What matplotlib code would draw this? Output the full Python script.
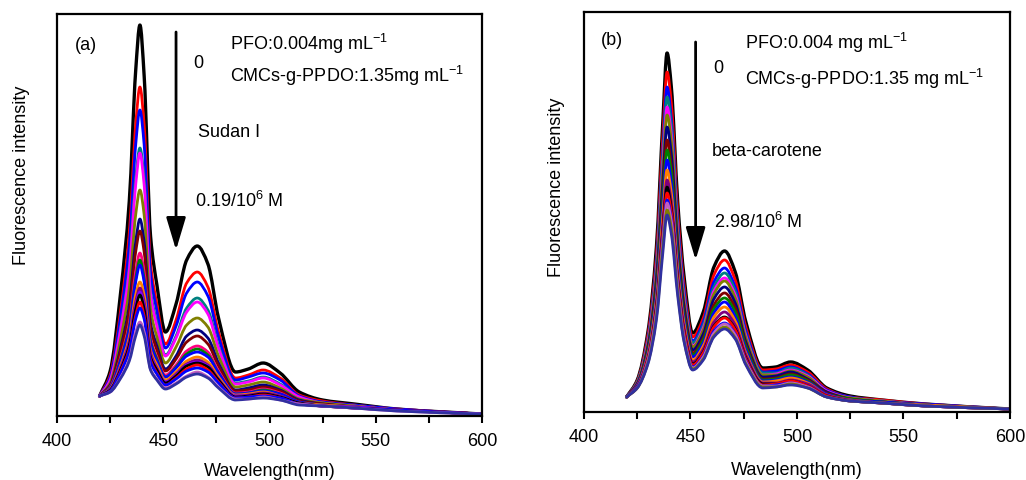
import matplotlib
matplotlib.use('Agg')
import matplotlib.pyplot as plt
import numpy as np
from matplotlib.path import Path
from matplotlib.patches import PathPatch
from matplotlib.ticker import MultipleLocator

plt.rcParams['font.family'] = ['Liberation Sans', 'DejaVu Sans']
plt.rcParams['mathtext.fontset'] = 'custom'
plt.rcParams['mathtext.rm'] = 'Liberation Sans'
plt.rcParams['mathtext.it'] = 'Liberation Sans:italic'

wavelength = [420, 425, 430, 434, 437, 439, 441, 444, 447, 451, 456, 461,
              466, 471, 476, 484, 490, 497, 505, 514, 525, 540, 560, 600]

# (a) Sudan I titration, one row per wavelength, one column per spectrum (0 -> 0.19/10^6 M)
sudan_rows = [
    [20, 20, 20, 20, 20, 20, 20, 20, 20, 20, 20, 20, 20, 20, 20, 20, 20, 20, 20],
    [45, 41, 39, 36, 36, 33, 31, 30, 29, 28, 28, 27, 26, 26, 26, 25, 25, 24, 24],
    [125, 107, 101, 90, 88, 78, 69, 66, 59, 57, 56, 51, 49, 48, 47, 45, 44, 39, 38],
    [215, 183, 170, 150, 146, 128, 111, 105, 93, 89, 87, 79, 75, 73, 71, 67, 65, 57, 55],
    [345, 291, 271, 238, 231, 201, 174, 164, 144, 137, 134, 121, 114, 110, 107, 100, 97, 84, 80],
    [391, 329, 306, 268, 263, 226, 197, 185, 163, 156, 151, 134, 128, 124, 121, 114, 108, 94, 91],
    [340, 291, 271, 238, 231, 201, 174, 164, 144, 137, 134, 121, 114, 110, 107, 100, 97, 84, 80],
    [180, 153, 143, 126, 122, 107, 93, 88, 78, 75, 73, 66, 63, 61, 59, 56, 54, 47, 46],
    [131, 112, 105, 93, 90, 79, 70, 66, 59, 57, 55, 51, 48, 47, 46, 43, 42, 37, 36],
    [84, 72, 68, 61, 60, 53, 47, 45, 41, 39, 39, 36, 34, 34, 33, 31, 31, 28, 27],
    [112, 96, 90, 80, 78, 69, 60, 57, 51, 49, 48, 44, 42, 41, 40, 38, 37, 33, 32],
    [156, 133, 123, 108, 104, 91, 80, 74, 65, 62, 60, 55, 52, 51, 50, 47, 45, 40, 39],
    [170, 144, 134, 118, 114, 98, 86, 80, 70, 67, 64, 59, 56, 54, 53, 51, 48, 44, 42],
    [152, 129, 120, 106, 102, 89, 78, 72, 64, 61, 59, 54, 51, 50, 49, 46, 44, 39, 38],
    [98, 84, 79, 70, 68, 60, 53, 50, 45, 43, 43, 39, 37, 36, 36, 34, 33, 29, 28],
    [44, 38, 36, 33, 32, 29, 26, 25, 23, 22, 22, 21, 20, 20, 19, 18, 18, 17, 16],
    [47, 41, 39, 35, 34, 31, 28, 26, 24, 23, 23, 22, 21, 20, 20, 19, 19, 17, 17],
    [53, 46, 43, 39, 38, 34, 31, 29, 27, 26, 25, 24, 23, 22, 22, 21, 20, 19, 18],
    [43, 38, 36, 32, 31, 28, 26, 25, 23, 22, 22, 20, 20, 19, 19, 18, 18, 16, 16],
    [24, 21, 20, 19, 19, 17, 16, 15, 14, 14, 14, 13, 13, 13, 13, 12, 12, 12, 11],
    [16, 15, 14, 13, 13, 13, 12, 12, 11, 11, 11, 11, 10, 10, 10, 10, 10, 10, 10],
    [12, 11, 11, 10, 10, 10, 9, 9, 9, 9, 9, 9, 9, 9, 8, 8, 8, 8, 8],
    [7, 7, 7, 6, 6, 6, 6, 6, 6, 6, 6, 6, 6, 6, 6, 6, 6, 5, 5],
    [2, 2, 2, 2, 2, 2, 2, 2, 2, 2, 2, 2, 2, 2, 2, 2, 2, 2, 2],
]

# (b) beta-carotene titration (0 -> 2.98/10^6 M)
carotene_rows = [
    [15, 15, 15, 15, 15, 15, 15, 15, 15, 15, 15, 15, 15, 15, 15, 15, 15, 15],
    [32, 31, 30, 30, 29, 29, 28, 28, 27, 27, 26, 26, 25, 25, 25, 24, 24, 24],
    [80, 77, 73, 72, 70, 68, 65, 63, 61, 59, 57, 55, 53, 53, 51, 51, 49, 48],
    [165, 157, 149, 146, 141, 138, 132, 126, 122, 118, 113, 108, 105, 103, 100, 99, 95, 92],
    [290, 276, 262, 256, 247, 242, 230, 219, 213, 205, 196, 187, 182, 179, 173, 170, 165, 159],
    [359, 340, 325, 315, 305, 297, 285, 272, 262, 252, 242, 232, 225, 219, 212, 209, 202, 197],
    [325, 309, 293, 287, 277, 271, 258, 245, 239, 229, 219, 210, 203, 200, 194, 191, 184, 178],
    [210, 200, 190, 185, 179, 175, 167, 159, 155, 149, 142, 136, 132, 130, 126, 124, 120, 116],
    [135, 127, 121, 117, 113, 110, 105, 100, 96, 92, 88, 84, 80, 79, 75, 74, 71, 70],
    [79, 75, 71, 69, 66, 65, 62, 59, 57, 55, 52, 50, 48, 47, 45, 44, 43, 42],
    [100, 94, 90, 87, 84, 82, 78, 74, 72, 69, 66, 63, 60, 59, 56, 55, 53, 52],
    [145, 137, 130, 125, 121, 118, 113, 107, 103, 99, 95, 90, 86, 85, 81, 79, 76, 75],
    [161, 152, 144, 139, 134, 131, 125, 119, 114, 110, 105, 100, 95, 94, 89, 88, 85, 83],
    [140, 132, 125, 121, 117, 114, 109, 104, 100, 95, 91, 87, 83, 82, 78, 77, 74, 73],
    [90, 85, 81, 78, 76, 74, 70, 67, 65, 62, 59, 57, 54, 53, 51, 50, 48, 47],
    [44, 42, 40, 39, 37, 37, 35, 33, 32, 31, 30, 29, 28, 27, 26, 26, 25, 24],
    [45, 43, 41, 39, 38, 37, 36, 34, 33, 32, 31, 29, 28, 28, 27, 26, 25, 25],
    [50, 47, 45, 44, 42, 41, 40, 38, 37, 35, 34, 32, 31, 31, 29, 29, 28, 27],
    [42, 40, 38, 37, 36, 35, 33, 32, 31, 30, 29, 28, 26, 26, 25, 25, 24, 24],
    [24, 23, 22, 21, 21, 20, 20, 19, 18, 18, 17, 17, 16, 16, 15, 15, 15, 15],
    [16, 15, 15, 14, 14, 14, 13, 13, 13, 12, 12, 12, 11, 11, 11, 11, 11, 11],
    [12, 12, 11, 11, 11, 11, 10, 10, 10, 10, 9, 9, 9, 9, 9, 9, 9, 9],
    [8, 8, 8, 7, 7, 7, 7, 7, 7, 7, 7, 6, 6, 6, 6, 6, 6, 6],
    [3, 3, 3, 3, 3, 3, 3, 3, 3, 3, 3, 3, 3, 3, 3, 3, 3, 3],
]

colors_a = ['black', 'red', 'blue', '#008080', 'magenta', '#808000', '#000080',
            '#800000', '#ff0080', '#008000', '#0000ff', '#ff8000', '#800080',
            '#8000ff', 'black', 'red', 'blue', '#c060c0', '#3030a0']
colors_b = ['black', 'red', 'blue', '#008080', 'magenta', '#808000', '#000080',
            '#800000', '#008000', '#0000ff', '#ff8000', '#800080', 'black',
            'red', 'blue', '#c060c0', '#808000', '#3030a0']


def smooth_path(x, y):
    # monotone cubic (Fritsch-Carlson) tangents, drawn as Bezier segments
    x = np.asarray(x, float)
    y = np.asarray(y, float)
    h = np.diff(x)
    d = np.diff(y) / h
    m = np.zeros_like(y)
    m[0], m[-1] = d[0], d[-1]
    for k in range(1, len(x) - 1):
        if d[k - 1] * d[k] <= 0:
            m[k] = 0.0
        else:
            w1 = 2 * h[k] + h[k - 1]
            w2 = h[k] + 2 * h[k - 1]
            m[k] = (w1 + w2) / (w1 / d[k - 1] + w2 / d[k])
    verts = [(x[0], y[0])]
    codes = [Path.MOVETO]
    for k in range(len(x) - 1):
        verts += [(x[k] + h[k] / 3, y[k] + m[k] * h[k] / 3),
                  (x[k + 1] - h[k] / 3, y[k + 1] - m[k + 1] * h[k] / 3),
                  (x[k + 1], y[k + 1])]
        codes += [Path.CURVE4] * 3
    return Path(verts, codes)


fig = plt.figure(figsize=(10.26, 4.8), dpi=100)
ax1 = fig.add_axes([0.0556, 0.1333, 0.4142, 0.8375])
ax2 = fig.add_axes([0.5692, 0.1417, 0.4152, 0.8333])


def draw_panel(ax, rows, colors, ymax):
    spectra = np.array(rows).T
    for i, spec in enumerate(spectra):
        ax.add_patch(PathPatch(smooth_path(wavelength, spec), fill=False,
                               edgecolor=colors[i], lw=2.4 if i == 0 else 2.0,
                               joinstyle='round', capstyle='round'))
    ax.set_xlim(400, 600)
    ax.set_ylim(0, ymax)
    ax.set_xticks([400, 450, 500, 550, 600])
    ax.xaxis.set_minor_locator(MultipleLocator(25))
    ax.set_yticks([])
    ax.tick_params(axis='x', which='both', direction='out', length=5, width=1.5,
                   labelsize=13, pad=7, top=False)
    for sp in ax.spines.values():
        sp.set_linewidth(1.6)
    ax.set_xlabel('Wavelength(nm)', fontsize=13)
    ax.set_ylabel('Fluorescence intensity', fontsize=13)


draw_panel(ax1, sudan_rows, colors_a, 402)
draw_panel(ax2, carotene_rows, colors_b, 400)

ax1.xaxis.set_label_coords(0.5, -0.118)
ax1.yaxis.set_label_coords(-0.064, 0.6)
ax2.xaxis.set_label_coords(0.5, -0.126)
ax2.yaxis.set_label_coords(-0.045, 0.561)

arrow = dict(arrowstyle='-|>,head_length=1.0,head_width=0.3', mutation_scale=20,
             lw=2, color='black', shrinkA=0, shrinkB=0)

# panel (a) annotations
ax1.text(408.5, 366, '(a)', fontsize=13, va='baseline')
ax1.annotate('', xy=(456, 166), xytext=(456, 384), arrowprops=arrow)
ax1.text(464, 348, '0', fontsize=13, va='baseline')
ax1.text(481.4, 366, 'PFO:0.004mg mL$^{-1}$', fontsize=13, va='baseline')
ax1.text(481.4, 334, 'CMCs-g-PPDO:1.35mg mL$^{-1}$', fontsize=13, va='baseline')
ax1.text(466.5, 279, 'Sudan I', fontsize=13, va='baseline')
ax1.text(465, 209, '0.19/10$^6$ M', fontsize=13, va='baseline')

# panel (b) annotations
ax2.text(408.1, 367, '(b)', fontsize=13, va='baseline')
ax2.annotate('', xy=(452.4, 152), xytext=(452.4, 370), arrowprops=arrow)
ax2.text(460.6, 339, '0', fontsize=13, va='baseline')
ax2.text(475.7, 363, 'PFO:0.004 mg mL$^{-1}$', fontsize=13, va='baseline')
ax2.text(475.7, 327, 'CMCs-g-PPDO:1.35 mg mL$^{-1}$', fontsize=13, va='baseline')
ax2.text(460.2, 256, 'beta-carotene', fontsize=13, va='baseline')
ax2.text(460.8, 184, '2.98/10$^6$ M', fontsize=13, va='baseline')

fig.savefig('out.png', dpi=100)
